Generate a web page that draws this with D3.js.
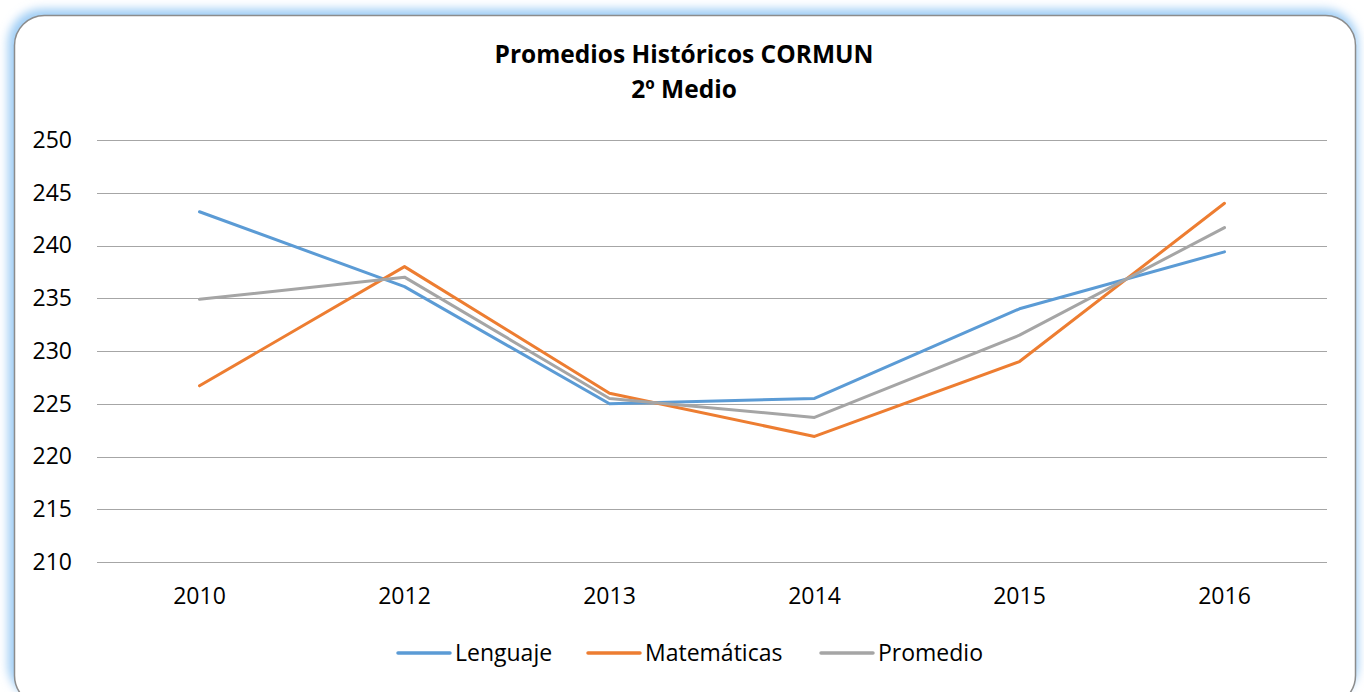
<!DOCTYPE html>
<html>
<head>
<meta charset="utf-8">
<title>Promedios Históricos CORMUN</title>
<script src="https://d3js.org/d3.v7.min.js"></script>
<style>
  body { margin: 0; background: #fff; }
  svg { display: block; }
</style>
</head>
<body>
<div id="container"></div>
<script>
// Data
const years = ["2010", "2012", "2013", "2014", "2015", "2016"]
const lenguaje = [243.2, 236.1, 225.0, 225.5, 234.0, 239.4]
const matematicas = [226.7, 238.0, 226.0, 221.9, 229.0, 244.0]
const promedio = [234.9, 237.0, 225.5, 223.7, 231.5, 241.7]
const yTicks = [210, 215, 220, 225, 230, 235, 240, 245, 250]

const seriesNames = ["Lenguaje", "Matemáticas", "Promedio"]
const seriesColors = ["#5b9bd5", "#ed7d31", "#a5a5a5"]
const series = [lenguaje, matematicas, promedio]

const w = 1364
const h = 692
const font = "'Open Sans', sans-serif"

const svg = d3.select("#container")
    .append("svg")
    .attr("width", w)
    .attr("height", h)

// Frame with soft blue glow
const defs = svg.append("defs")
const glow = defs.append("filter")
    .attr("id", "glow")
    .attr("x", "-5%").attr("y", "-10%")
    .attr("width", "110%").attr("height", "120%")
glow.append("feGaussianBlur").attr("stdDeviation", 5)

svg.append("rect")
    .attr("x", 8).attr("y", 9)
    .attr("width", 1350).attr("height", 690)
    .attr("rx", 34)
    .attr("fill", "#9fcdf5")
    .attr("filter", "url(#glow)")

svg.append("rect")
    .attr("x", 14.5).attr("y", 15.5)
    .attr("width", 1341).attr("height", 690)
    .attr("rx", 30)
    .attr("fill", "#fff")
    .attr("stroke", "#8c8c8c")
    .attr("stroke-width", 1.5)

// Scales
const x = d3.scaleBand()
    .domain(years)
    .range([97, 1327])

const y = d3.scaleLinear()
    .domain([210, 250])
    .range([562, 140])

// Title
const title = svg.append("text")
    .attr("x", 684)
    .attr("text-anchor", "middle")
    .attr("font-family", font)
    .attr("font-weight", "bold")
    .attr("font-size", 24.5)
    .attr("fill", "#000")
title.append("tspan").attr("x", 684).attr("y", 63).text("Promedios Históricos CORMUN")
title.append("tspan").attr("x", 684).attr("y", 98).text("2º Medio")

// Gridlines
svg.append("g")
    .selectAll("line")
    .data(yTicks)
    .join("line")
    .attr("x1", 97)
    .attr("x2", 1327)
    .attr("y1", d => Math.round(y(d)) + 0.5)
    .attr("y2", d => Math.round(y(d)) + 0.5)
    .attr("stroke", "#a6a6a6")
    .attr("stroke-width", 1)

// Y axis labels
const yAxis = d3.axisLeft(y).tickValues(yTicks).tickSize(0).tickPadding(0)
svg.append("g")
    .attr("transform", "translate(72,0)")
    .call(yAxis)
    .call(g => g.select(".domain").remove())
    .selectAll("text")
    .attr("font-family", font)
    .attr("font-size", 23)
    .attr("fill", "#000")

// X axis labels
const xAxis = d3.axisBottom(x).tickSize(0).tickPadding(0)
svg.append("g")
    .attr("transform", "translate(0,588)")
    .call(xAxis)
    .call(g => g.select(".domain").remove())
    .selectAll("text")
    .attr("font-family", font)
    .attr("font-size", 23)
    .attr("fill", "#000")

// Lines
const line = d3.line()
    .x((d, i) => x(years[i]) + x.bandwidth() / 2)
    .y(d => y(d))

svg.append("g")
    .selectAll("path")
    .data(series)
    .join("path")
    .attr("d", d => line(d))
    .attr("fill", "none")
    .attr("stroke", (d, i) => seriesColors[i])
    .attr("stroke-width", 3)
    .attr("stroke-linejoin", "round")
    .attr("stroke-linecap", "round")

// Legend
const legendX = [397, 587, 820]
const legend = svg.append("g")
    .selectAll("g")
    .data(seriesNames)
    .join("g")
    .attr("transform", (d, i) => `translate(${legendX[i]},653)`)

legend.append("line")
    .attr("x1", 1).attr("x2", 53)
    .attr("stroke", (d, i) => seriesColors[i])
    .attr("stroke-width", 3.5)
    .attr("stroke-linecap", "round")

legend.append("text")
    .attr("x", 58)
    .attr("dy", "0.35em")
    .attr("font-family", font)
    .attr("font-size", 23)
    .attr("fill", "#000")
    .text(d => d)
</script>
</body>
</html>
